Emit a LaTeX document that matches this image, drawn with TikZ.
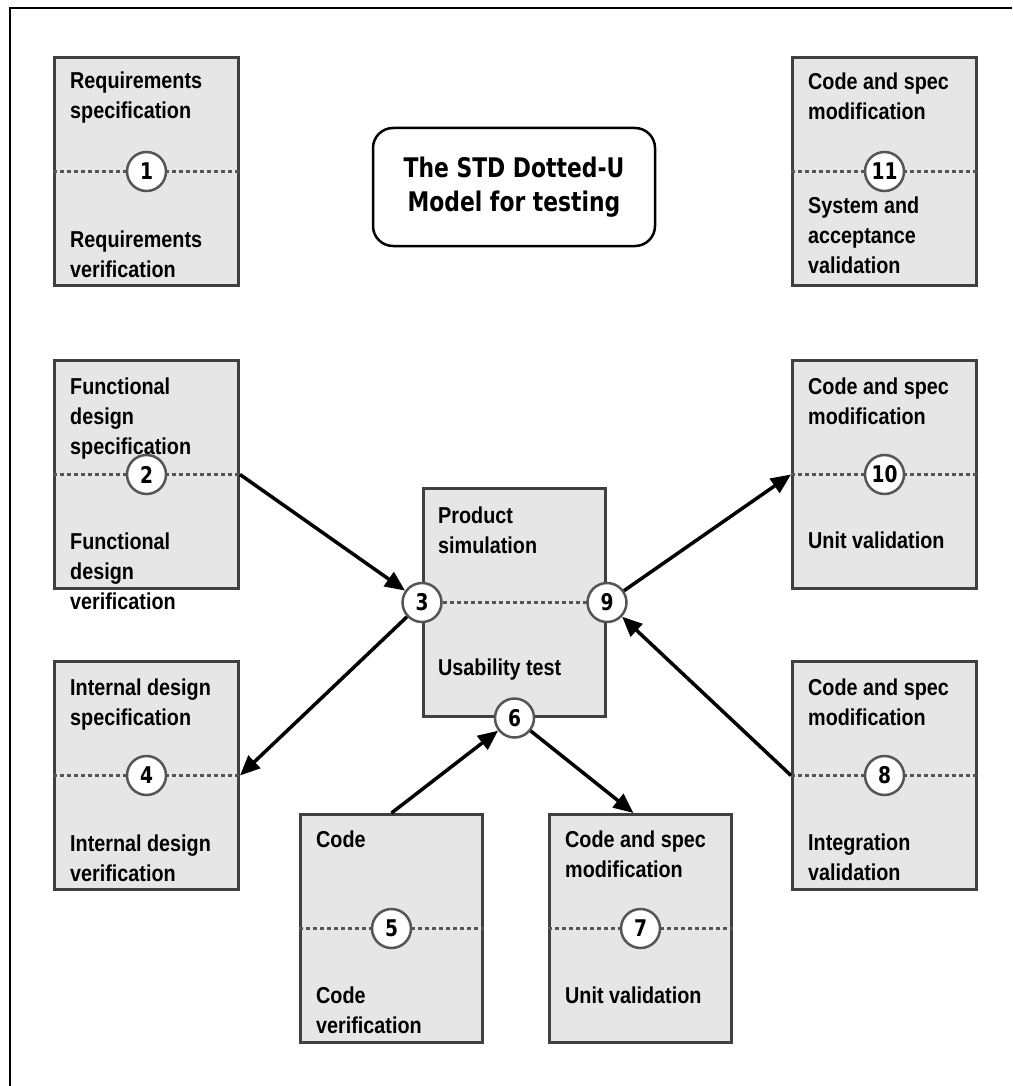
\documentclass[tikz,border=0pt]{standalone}
\usepackage{fontspec}
\usetikzlibrary{arrows.meta}
\setmainfont{Liberation Sans}
\newfontfamily\stagefamily{Liberation Sans}[FakeStretch=0.86]
\newfontfamily\headfamily{DejaVu Sans}[FakeStretch=0.81]
\definecolor{boxfill}{HTML}{E6E6E6}
\definecolor{boxline}{HTML}{404040}
\definecolor{dotgray}{HTML}{555555}
\newcommand\lblfont{\stagefamily\bfseries\fontsize{23}{30}\selectfont}
\newcommand\numfont{\headfamily\bfseries\fontsize{23}{24}\selectfont}
\newcommand\headfont{\headfamily\bfseries\fontsize{27}{34}\selectfont}
\newcommand\lines[1]{\parbox[t]{200pt}{\raggedright #1}}
\begin{document}
\begin{tikzpicture}[x=1pt,y=-1pt,
  stage/.style={draw=boxline, line width=3pt, fill=boxfill, minimum width=184pt,
    minimum height=228pt, inner sep=0pt, anchor=north west},
  midstage/.style={stage, minimum width=182pt},
  num/.style={circle, draw=dotgray, line width=2.5pt, fill=white, minimum size=39pt,
    inner sep=0pt, font=\numfont},
  lbl/.style={anchor=base west, inner sep=0pt, font=\lblfont},
  split/.style={draw=dotgray, line width=2.5pt, dash pattern=on 4pt off 3pt},
  flow/.style={draw=black, line width=3.5pt, -{Triangle[length=20pt,width=17pt]}}]
\useasboundingbox (0,0) rectangle (1012,1086);

% outer frame
\draw[line width=2pt] (10,1086) -- (10,8) -- (1012,8);

% title
\node[draw, line width=2.5pt, rounded corners=20pt, minimum width=282pt,
  minimum height=118pt, align=center, font=\headfont, fill=white] (title)
  at (514,187) {The STD Dotted-U\\Model for testing};

% stage boxes
\node[stage] (b1) at (53,56) {};
\node[stage] (b11) at (791,56) {};
\node[stage] (b2) at (53,359) {};
\node[stage] (b10) at (791,359) {};
\node[midstage] (bc) at (422,487) {};
\node[stage] (b4) at (53,660) {};
\node[stage] (b8) at (791,660) {};
\node[midstage] (b5) at (299,813) {};
\node[midstage] (b7) at (548,813) {};

% box texts
\node[lbl] (t1a) at (70,89) {\lines{Requirements\\specification}};
\node[lbl] (t1b) at (70,247) {\lines{Requirements\\verification}};
\node[lbl] (t11a) at (808,90) {\lines{Code and spec\\modification}};
\node[lbl] (t11b) at (808,213) {\lines{System and\\acceptance\\validation}};
\node[lbl] (t2a) at (70,394) {\lines{Functional\\design\\specification}};
\node[lbl] (t2b) at (70,549) {\lines{Functional\\design\\verification}};
\node[lbl] (t10a) at (808,394) {\lines{Code and spec\\modification}};
\node[lbl] (t10b) at (808,548) {\lines{Unit validation}};
\node[lbl] (tca) at (438,523) {\lines{Product\\simulation}};
\node[lbl] (tcb) at (438,675) {\lines{Usability test}};
\node[lbl] (t4a) at (70,695) {\lines{Internal design\\specification}};
\node[lbl] (t4b) at (70,851) {\lines{Internal design\\verification}};
\node[lbl] (t8a) at (808,695) {\lines{Code and spec\\modification}};
\node[lbl] (t8b) at (808,850) {\lines{Integration\\validation}};
\node[lbl] (t5a) at (316,847) {\lines{Code}};
\node[lbl] (t5b) at (316,1003) {\lines{Code\\verification}};
\node[lbl] (t7a) at (565,847) {\lines{Code and spec\\modification}};
\node[lbl] (t7b) at (565,1003) {\lines{Unit validation}};

% dotted dividers
\foreach \b in {b1,b11,b2,b10,bc,b4,b8,b5,b7}
  \draw[split] (\b.west) -- (\b.east);

% numbered points
\node[num] (c1) at (b1.center) {1};
\node[num] (c11) at (b11.center) {11};
\node[num] (c2) at (b2.center) {2};
\node[num] (c10) at (b10.center) {10};
\node[num] (c3) at (bc.west) {3};
\node[num] (c9) at (bc.east) {9};
\node[num] (c6) at (bc.south) {6};
\node[num] (c4) at (b4.center) {4};
\node[num] (c8) at (b8.center) {8};
\node[num] (c5) at (b5.center) {5};
\node[num] (c7) at (b7.center) {7};

% flow of the U
\draw[flow] (b2.east) -- (c3);
\draw[flow] (c3) -- (b4.east);
\draw[flow] (b5.north) -- (c6);
\draw[flow] (c6) -- ([xshift=-7pt]b7.north);
\draw[flow] (b8.west) -- (c9);
\draw[flow] (c9) -- (b10.west);
\end{tikzpicture}
\end{document}
